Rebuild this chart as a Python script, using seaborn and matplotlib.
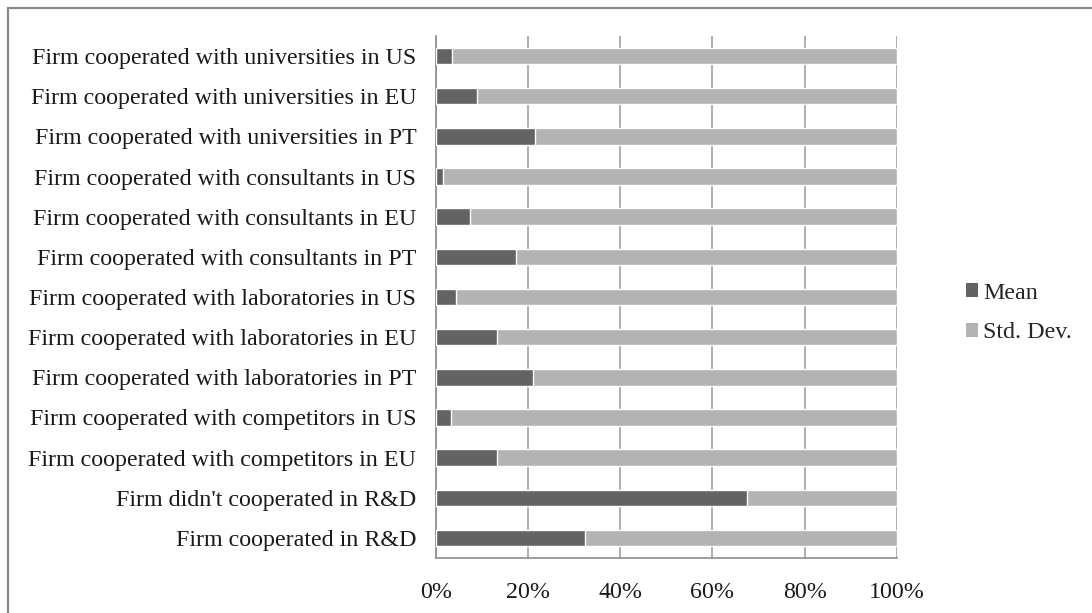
import matplotlib
matplotlib.use("Agg")
import matplotlib.pyplot as plt
from matplotlib.patches import Rectangle, Patch
import seaborn as sns
import pandas as pd

categories = [
    "Firm cooperated with universities in US",
    "Firm cooperated with universities in EU",
    "Firm cooperated with universities in PT",
    "Firm cooperated with consultants in US",
    "Firm cooperated with consultants in EU",
    "Firm cooperated with consultants in PT",
    "Firm cooperated with laboratories in US",
    "Firm cooperated with laboratories in EU",
    "Firm cooperated with laboratories in PT",
    "Firm cooperated with competitors in US",
    "Firm cooperated with competitors in EU",
    "Firm didn't cooperated in R&D",
    "Firm cooperated in R&D",
]
mean_share = [3.5, 9.0, 21.6, 1.6, 7.4, 17.4, 4.3, 13.2, 21.0, 3.3, 13.2, 67.4, 32.4]
std_share = [96.5, 91.0, 78.4, 98.4, 92.6, 82.6, 95.7, 86.8, 79.0, 96.7, 86.8, 32.6, 67.6]
x_ticks = [0, 20, 40, 60, 80, 100]
x_tick_labels = ["0%", "20%", "40%", "60%", "80%", "100%"]

df = pd.DataFrame({"cat": categories, "mean": mean_share, "std": std_share})
df["total"] = df["mean"] + df["std"]

sns.set_theme(style="white")
plt.rcParams["font.family"] = ["Liberation Serif", "DejaVu Serif"]

DARK = "#636363"
LIGHT = "#b3b3b3"
GRID = "#a0a0a0"
FS = 17.3

fig = plt.figure(figsize=(10.92, 6.13), dpi=100)
ax = fig.add_axes([435.7 / 1092, 1 - 558 / 613, (897 - 435.7) / 1092, (558 - 36) / 613])

sns.barplot(data=df, x="total", y="cat", order=categories, color=LIGHT,
            width=0.41, saturation=1, orient="h", ax=ax, zorder=3)
sns.barplot(data=df, x="mean", y="cat", order=categories, color=DARK,
            width=0.41, saturation=1, orient="h", ax=ax, zorder=4)

ax.set_xlim(0, 100)
ax.set_ylim(12.5, -0.5)
ax.set_xticks(x_ticks)
ax.set_xticklabels(x_tick_labels)
ax.set_xlabel("")
ax.set_ylabel("")
ax.tick_params(axis="both", length=0, labelsize=FS, colors="#1a1a1a")
ax.tick_params(axis="x", pad=17)
ax.tick_params(axis="y", pad=14)
ax.xaxis.grid(True, color=GRID, linewidth=1.2, zorder=0)
ax.set_axisbelow(True)
for s in ["top", "right"]:
    ax.spines[s].set_visible(False)
for s in ["left", "bottom"]:
    ax.spines[s].set_color("#8c8c8c")
    ax.spines[s].set_linewidth(1.2)

handles = [Patch(facecolor=DARK, edgecolor="none", label="Mean"),
           Patch(facecolor=LIGHT, edgecolor="none", label="Std. Dev.")]
fig.legend(handles=handles, loc="center left", bbox_to_anchor=(966 / 1092, 1 - 313 / 613),
           frameon=False, fontsize=FS, handlelength=0.5, handleheight=0.5,
           handletextpad=0.2, labelspacing=0.77, borderpad=0, borderaxespad=0)

fig.patches.append(Rectangle((8 / 1092, -0.1), 1.2, 1.1 - 8 / 613, transform=fig.transFigure,
                             fill=False, edgecolor="#8a8a8a", linewidth=1.6, zorder=10))

fig.savefig("out.png", dpi=100)
